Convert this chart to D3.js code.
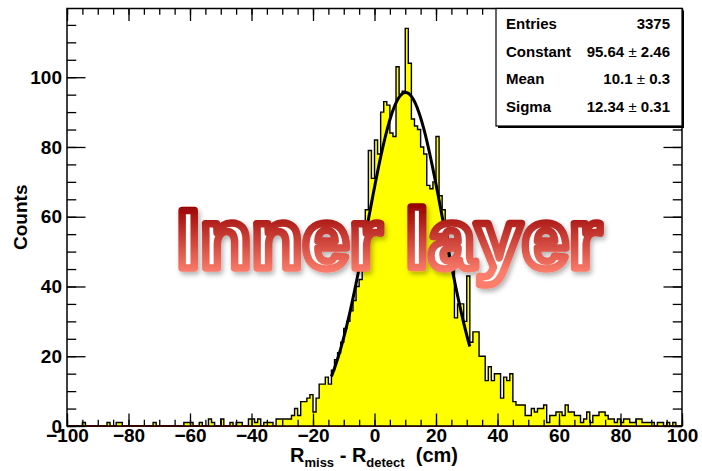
<!DOCTYPE html>
<html>
<head>
<meta charset="utf-8">
<script src="https://cdn.jsdelivr.net/npm/d3@7"></script>
<style>
  html, body { margin: 0; padding: 0; background: #fff; }
  svg { display: block; }
  .lbl { font-family: "Liberation Sans", Arial, Helvetica, sans-serif; font-weight: bold; }
</style>
</head>
<body>
<svg id="chart" width="702" height="471"></svg>
<script>
// ---- histogram data: one bin per cm, lower edges from -100 to 99 ----
const binLow = d3.range(-100, 100);
const counts = [
  0, 0, 0, 0, 0, 1, 0, 0, 0, 0,      // -100 .. -91
  0, 0, 0, 1, 0, 0, 1, 1, 0, 0,      // -90 .. -81
  0, 0, 0, 0, 0, 0, 0, 0, 1, 0,      // -80 .. -71
  0, 0, 0, 0, 0, 0, 0, 0, 1, 1,      // -70 .. -61
  1, 0, 0, 1, 0, 0, 2, 1, 0, 0,      // -60 .. -51
  2, 0, 0, 1, 0, 1, 1, 0, 0, 2,      // -50 .. -41
  2, 1, 2, 0, 1, 1, 1, 0, 2, 2,      // -40 .. -31
  2, 2, 2, 3, 5, 3, 7, 7, 8, 9,      // -30 .. -21
  4, 8, 12, 12, 14, 12, 16, 19, 21, 24, // -20 .. -11
  28, 30, 33, 36, 40, 42, 50, 62, 79, 71, // -10 .. -1
  82, 78, 90, 93, 92, 84, 83, 103, 95, 96, // 0 .. 9
  114, 104, 88, 86, 85, 80, 78, 69, 68, 70, // 10 .. 19
  83, 66, 62, 58, 48, 45, 31, 35, 35, 30, // 20 .. 29
  43, 24, 27, 27, 20, 20, 13, 17, 13, 15, // 30 .. 39
  15, 8, 14, 13, 15, 7, 6, 6, 6, 3,   // 40 .. 49
  3, 5, 4, 5, 5, 6, 1, 3, 3, 4,       // 50 .. 59
  4, 3, 6, 4, 4, 3, 3, 1, 2, 4,       // 60 .. 69
  1, 3, 3, 4, 4, 3, 2, 2, 1, 2,       // 70 .. 79
  1, 2, 2, 1, 1, 2, 2, 1, 1, 1,       // 80 .. 89
  1, 0, 1, 1, 0, 1, 0, 1, 0, 0        // 90 .. 99
];
const binWidth = 1;

// axis ticks
const xMajorTicks = d3.range(-100, 101, 20);
const xMinorTicks = d3.range(-100, 101, 5);
const yMajorTicks = d3.range(0, 101, 20);
const yMinorTicks = d3.range(0, 120, 5);
const yMax = 119.7;

// gaussian fit results shown in the stats box
const statNames  = ["Entries", "Constant", "Mean", "Sigma"];
const statValues = [["3375"], ["95.64", "2.46"], ["10.1", "0.3"], ["12.34", "0.31"]];
const fitConstant = 95.64, fitMean = 10.1, fitSigma = 12.34;
const fitRange = [-14, 31];

const svg = d3.select("#chart");
const frame = { left: 67, right: 682, top: 8.5, bottom: 426 };

const x = d3.scaleLinear().domain([-100, 100]).range([frame.left, frame.right]);
const y = d3.scaleLinear().domain([0, yMax]).range([frame.bottom, frame.top]);

svg.append("rect").attr("width", 702).attr("height", 471).attr("fill", "#fff");

const bins = binLow.map((lo, i) => ({ lo, hi: lo + binWidth, n: counts[i] }));

// red base line under the histogram
svg.append("line")
  .attr("x1", x(-100)).attr("x2", x(100))
  .attr("y1", y(0)).attr("y2", y(0))
  .attr("stroke", "#e00000").attr("stroke-width", 2);

// step outline of the histogram
const stepPts = [];
bins.forEach(b => { stepPts.push([b.lo, b.n]); stepPts.push([b.hi, b.n]); });

const area = d3.area().x(d => x(d[0])).y0(y(0)).y1(d => y(d[1]));
svg.append("path").attr("d", area(stepPts)).attr("fill", "#ffff00");

const outline = d3.line().x(d => x(d[0])).y(d => y(d[1]));
svg.append("path").attr("d", outline([[-100, 0], ...stepPts, [100, 0]]))
  .attr("fill", "none").attr("stroke", "#000").attr("stroke-width", 1.4)
  .attr("stroke-linejoin", "miter");

// zero bins keep the red base line visible
svg.append("g").selectAll("line").data(bins.filter(b => b.n === 0)).join("line")
  .attr("x1", d => x(d.lo)).attr("x2", d => x(d.hi))
  .attr("y1", y(0)).attr("y2", y(0))
  .attr("stroke", "#e00000").attr("stroke-width", 2);

// fitted gaussian
const gauss = v => fitConstant * Math.exp(-0.5 * Math.pow((v - fitMean) / fitSigma, 2));
const fitPts = d3.range(fitRange[0], fitRange[1] + 0.001, 0.45).map(v => [v, gauss(v)]);
svg.append("path").attr("d", d3.line().x(d => x(d[0])).y(d => y(d[1])).curve(d3.curveLinear)(fitPts))
  .attr("fill", "none").attr("stroke", "#000").attr("stroke-width", 3);

// frame
svg.append("rect")
  .attr("x", frame.left).attr("y", frame.top)
  .attr("width", frame.right - frame.left).attr("height", frame.bottom - frame.top)
  .attr("fill", "none").attr("stroke", "#000").attr("stroke-width", 1.5);

// axes with inward ticks on all four sides
const fmt = d3.format("d");
function styleAxis(g) {
  g.select(".domain").remove();
  g.selectAll(".tick line").attr("stroke", "#000").attr("stroke-width", 1.3);
  g.selectAll("text").attr("class", "lbl").attr("fill", "#000").attr("font-size", 19);
}
const tickX = 12.5, tickY = 18.5;

svg.append("g").attr("transform", `translate(0,${frame.bottom})`)
  .call(d3.axisBottom(x).tickValues(xMinorTicks).tickSize(-tickX / 2).tickFormat(""))
  .call(styleAxis);
svg.append("g").attr("transform", `translate(0,${frame.bottom})`)
  .call(d3.axisBottom(x).tickValues(xMajorTicks).tickSize(-tickX).tickPadding(2).tickFormat(fmt))
  .call(styleAxis);
svg.append("g").attr("transform", `translate(0,${frame.top})`)
  .call(d3.axisTop(x).tickValues(xMinorTicks).tickSize(-tickX / 2).tickFormat(""))
  .call(styleAxis);
svg.append("g").attr("transform", `translate(0,${frame.top})`)
  .call(d3.axisTop(x).tickValues(xMajorTicks).tickSize(-tickX).tickFormat(""))
  .call(styleAxis);

svg.append("g").attr("transform", `translate(${frame.left},0)`)
  .call(d3.axisLeft(y).tickValues(yMinorTicks).tickSize(-tickY / 2).tickFormat(""))
  .call(styleAxis);
svg.append("g").attr("transform", `translate(${frame.left},0)`)
  .call(d3.axisLeft(y).tickValues(yMajorTicks).tickSize(-tickY).tickPadding(5).tickFormat(fmt))
  .call(styleAxis);
svg.append("g").attr("transform", `translate(${frame.right},0)`)
  .call(d3.axisRight(y).tickValues(yMinorTicks).tickSize(-tickY / 2).tickFormat(""))
  .call(styleAxis);
svg.append("g").attr("transform", `translate(${frame.right},0)`)
  .call(d3.axisRight(y).tickValues(yMajorTicks).tickSize(-tickY).tickFormat(""))
  .call(styleAxis);

// axis titles
svg.append("text").attr("class", "lbl").attr("font-size", 19)
  .attr("transform", `translate(27,${(frame.top + frame.bottom) / 2}) rotate(-90)`)
  .attr("text-anchor", "middle").text("Counts");

const xt = svg.append("text").attr("class", "lbl").attr("font-size", 20)
  .attr("x", 374).attr("y", 462).attr("text-anchor", "middle");
xt.append("tspan").text("R");
xt.append("tspan").attr("font-size", 13).attr("dy", 5).text("miss");
xt.append("tspan").attr("dy", -5).text(" - R");
xt.append("tspan").attr("font-size", 13).attr("dy", 5).text("detect");
xt.append("tspan").attr("dy", -5).attr("xml:space", "preserve").text("\u00a0 (cm)");

// stats box
const box = { x0: 496, x1: 682, y0: 8.5, y1: 126 };
svg.append("rect").attr("x", box.x0 + 2).attr("y", box.y0 + 2)
  .attr("width", box.x1 - box.x0).attr("height", box.y1 - box.y0).attr("fill", "#000");
svg.append("rect").attr("x", box.x0).attr("y", box.y0)
  .attr("width", box.x1 - box.x0).attr("height", box.y1 - box.y0)
  .attr("fill", "#fff").attr("stroke", "#000").attr("stroke-width", 1.2);

const rowY = [29, 56.5, 84, 111.5];
statNames.forEach((name, i) => {
  svg.append("text").attr("class", "lbl").attr("font-size", 15)
    .attr("x", 506).attr("y", rowY[i]).text(name);
  const t = svg.append("text").attr("class", "lbl").attr("font-size", 15)
    .attr("x", 670).attr("y", rowY[i]).attr("text-anchor", "end");
  const v = statValues[i];
  t.append("tspan").text(v[0]);
  if (v.length > 1) {
    t.append("tspan").attr("font-weight", "normal").text(" \u00b1 ");
    t.append("tspan").text(v[1]);
  }
});

// overlay title
const defs = svg.append("defs");
const grad = defs.append("linearGradient").attr("id", "redGrad")
  .attr("gradientUnits", "userSpaceOnUse").attr("x1", 0).attr("x2", 0).attr("y1", 204).attr("y2", 272);
grad.append("stop").attr("offset", 0).attr("stop-color", "#980000");
grad.append("stop").attr("offset", 1).attr("stop-color", "#fb7d6c");
const sh = defs.append("filter").attr("id", "shadow").attr("x", "-10%").attr("y", "-20%").attr("width", "120%").attr("height", "150%");
sh.append("feDropShadow").attr("dx", 2).attr("dy", 3).attr("stdDeviation", 2.5)
  .attr("flood-color", "#000").attr("flood-opacity", 0.3);

svg.append("text")
  .attr("x", 389).attr("y", 268).attr("text-anchor", "middle")
  .attr("font-family", "'Liberation Sans', Arial, sans-serif").attr("font-weight", "bold")
  .attr("font-size", 84)
  .attr("fill", "#fff").attr("stroke", "url(#redGrad)").attr("stroke-width", 7.5)
  .attr("stroke-linejoin", "round")
  .attr("filter", "url(#shadow)")
  .text("Inner layer");
</script>
</body>
</html>
